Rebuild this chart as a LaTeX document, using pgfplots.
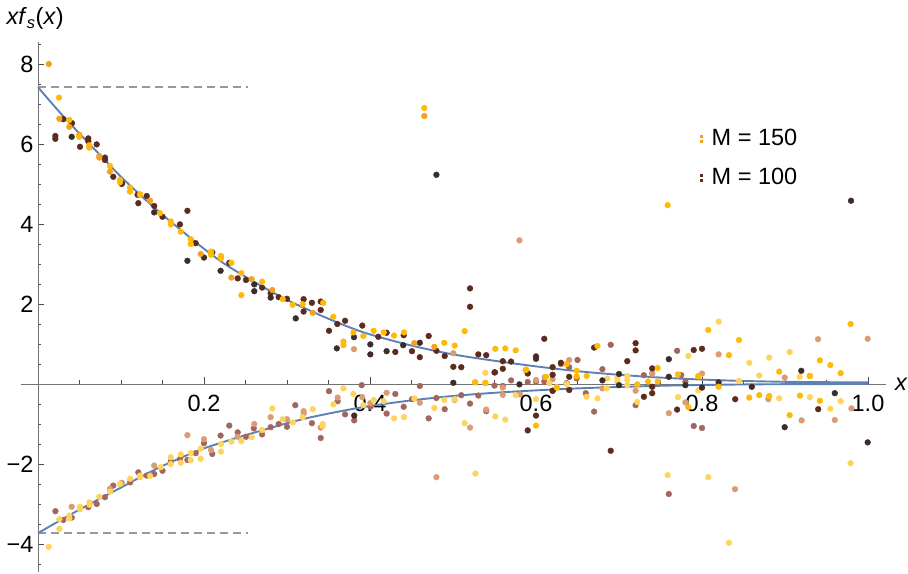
\documentclass[border=0pt]{standalone}
\usepackage{pgfplots}
\pgfplotsset{compat=1.18}
\usepackage{fontspec}
\setmainfont{Liberation Sans}
\definecolor{cgold}{HTML}{FFBA08}
\definecolor{corange}{HTML}{F2A21F}
\definecolor{cdark}{HTML}{5C2B1D}
\definecolor{cblack}{HTML}{3D2C2C}
\definecolor{cyel}{HTML}{FFD45C}
\definecolor{ctan}{HTML}{D99C74}
\definecolor{cmauve}{HTML}{A3665F}
\definecolor{cblue}{HTML}{5E81B5}
\begin{document}
\begin{tikzpicture}
\begin{axis}[
  scale only axis, width=864.9pt, height=530.4pt,
  xmin=-0.02, xmax=1.022, ymin=-4.7, ymax=8.56,
  axis lines=middle, axis line style={-, black!55, line width=0.9pt},
  clip=false,
  xtick={0.2,0.4,0.6,0.8,1.0}, xticklabels={0.2,0.4,0.6,0.8,1.0},
  minor xtick={0.05,0.1,0.15,0.25,0.3,0.35,0.45,0.5,0.55,0.65,0.7,0.75,0.85,0.9,0.95},
  ytick={-4,-2,2,4,6,8}, yticklabels={−4,−2,2,4,6,8},
  minor ytick={-4.5,-3.5,-3,-2.5,-1.5,-1,-0.5,0.5,1,1.5,2.5,3,3.5,4.5,5,5.5,6.5,7,7.5,8.5},
  tick align=inside, major tick length=6.5pt, minor tick length=3.5pt,
  tick style={black!70, line width=0.8pt},
  every tick label/.append style={font=\fontsize{23.5}{26}\selectfont, text=black},
  xticklabel style={yshift=-8pt},
  yticklabel style={xshift=-1pt},
  legend style={at={(axis cs:0.797,5.65)}, anchor=west, draw=none, fill=none,
    font=\fontsize{23.5}{26}\selectfont, row sep=17pt, inner sep=0pt,
    /tikz/every odd column/.append style={column sep=7pt}},
  legend cell align=left,
  mark size=2.9pt,
]
\addlegendimage{legend image code/.code={\fill[corange] (0pt,1.5pt) rectangle (2.6pt,3.6pt); \fill[corange] (0pt,-3.6pt) rectangle (2.6pt,-1.5pt);}}
\addlegendentry{M = 150}
\addlegendimage{legend image code/.code={\fill[cdark] (0pt,1.5pt) rectangle (2.6pt,3.6pt); \fill[cdark] (0pt,-3.6pt) rectangle (2.6pt,-1.5pt);}}
\addlegendentry{M = 100}
% dashed reference lines
\addplot[forget plot, no marks, black!40, dashed, dash pattern=on 8pt off 5pt, line width=1.8pt] coordinates {(0,7.42) (0.253,7.42)};
\addplot[forget plot, no marks, black!40, dashed, dash pattern=on 8pt off 5pt, line width=1.8pt] coordinates {(0,-3.73) (0.253,-3.73)};
% fitted curves
\addplot[forget plot, no marks, cblue, line width=1.9pt, smooth] coordinates {
(0,7.42) (0.025,6.82) (0.05,6.26) (0.075,5.72) (0.1,5.18) (0.125,4.69) (0.15,4.23) (0.175,3.80) (0.2,3.38) (0.225,3.00) (0.25,2.68) (0.275,2.38) (0.3,2.10) (0.325,1.86) (0.35,1.63) (0.375,1.42) (0.4,1.24) (0.45,0.96) (0.5,0.74) (0.55,0.58) (0.6,0.44) (0.65,0.32) (0.7,0.23) (0.75,0.16) (0.8,0.11) (0.85,0.075) (0.9,0.055) (0.95,0.045) (1.0,0.04)};
\addplot[forget plot, no marks, cblue, line width=1.9pt, smooth] coordinates {
(0,-3.73) (0.025,-3.43) (0.05,-3.14) (0.075,-2.86) (0.1,-2.59) (0.125,-2.31) (0.15,-2.05) (0.175,-1.82) (0.2,-1.61) (0.225,-1.44) (0.25,-1.28) (0.275,-1.13) (0.3,-0.98) (0.325,-0.85) (0.35,-0.74) (0.375,-0.64) (0.4,-0.55) (0.45,-0.41) (0.5,-0.30) (0.55,-0.22) (0.6,-0.16) (0.65,-0.11) (0.7,-0.075) (0.75,-0.045) (0.8,-0.025) (0.85,-0.012) (0.9,-0.005) (0.95,-0.002) (1.0,0)};
% scatter: lower-branch colours
\addplot[forget plot, only marks, mark=*, cmauve, mark options={draw=none}] coordinates {
(0.021,-3.18) (0.0305,-3.4) (0.0406,-3.34) (0.0606,-3.08) (0.0707,-3.0) (0.0807,-2.83) (0.0907,-2.54) (0.111,-2.46) (0.1209,-2.21) (0.131,-2.29) (0.14,-2.25) (0.15,-2.17) (0.16,-1.94) (0.171,-1.88) (0.18,-1.9) (0.19,-1.73) (0.2,-1.48) (0.21,-1.75) (0.22,-1.29) (0.2305,-1.04) (0.2406,-1.21) (0.2506,-1.32) (0.26,-1.11) (0.27,-1.26) (0.2803,-1.08) (0.29,-1.0) (0.30,-1.07) (0.31,-0.53) (0.33,-0.98) (0.3406,-1.35) (0.3506,-0.18) (0.361,-0.43) (0.37,-0.76) (0.381,-0.91) (0.39,-0.03) (0.4004,-0.57) (0.42,-0.74) (0.4305,-0.25) (0.4406,-0.57) (0.4506,-0.38) (0.46,-0.05) (0.4707,-0.86) (0.48,-0.35) (0.49,-0.63) (0.51,-0.28) (0.5205,-0.49) (0.5305,-0.29) (0.54,-0.68) (0.55,-0.04) (0.56,-0.05) (0.57,0.09) (0.58,-0.25) (0.59,0.05) (0.59,0.26) (0.6,0.06) (0.61,0.06) (0.62,-0.17) (0.63,0.5) (0.637,0.02) (0.64,0.42) (0.649,0.14) (0.65,0.6) (0.66,-0.23) (0.67,-0.69) (0.68,0.37) (0.69,0.98) (0.72,-0.53) (0.73,0.22) (0.775,0.22) (0.76,-2.75) (0.77,0.83) (0.78,0.06) (0.79,-1.05) (0.80,-1.1)};
\addplot[forget plot, only marks, mark=*, ctan, mark options={draw=none}] coordinates {
(0.0406,-3.07) (0.0867,-2.62) (0.101,-2.47) (0.14,-2.04) (0.18,-1.28) (0.2,-1.38) (0.2084,-1.65) (0.2406,-1.32) (0.2606,-1.0) (0.2803,-0.83) (0.30,-0.88) (0.32,-0.68) (0.32,-0.74) (0.3406,-1.09) (0.361,-0.34) (0.3807,0.87) (0.3907,-0.33) (0.4004,-0.48) (0.42,-0.22) (0.46,-0.47) (0.48,-2.33) (0.5004,0.77) (0.502,-0.4) (0.5205,-1.09) (0.54,-0.64) (0.56,-0.09) (0.56,-0.27) (0.5807,-0.26) (0.580,3.59) (0.60,0.1) (0.6105,0.17) (0.62,0.12) (0.64,0.6) (0.68,-0.11) (0.72,-0.17) (0.74,0.25) (0.74,0.27) (0.76,-0.73) (0.78,-0.46) (0.80,0.26) (0.82,0.74) (0.8398,-2.63) (0.86,-0.05) (0.8799,-0.38) (0.8996,0.16) (0.92,-0.91) (0.9398,1.12) (0.96,-0.9) (0.98,-0.61) (0.9996,1.13)};
\addplot[forget plot, only marks, mark=*, cyel, mark options={draw=none}] coordinates {
(0.013,-4.07) (0.0257,-3.38) (0.0257,-3.62) (0.0377,-3.29) (0.0377,-3.36) (0.0506,-3.07) (0.0506,-3.13) (0.062,-2.96) (0.062,-3.02) (0.0739,-2.82) (0.0867,-2.69) (0.0988,-2.5) (0.111,-2.37) (0.1229,-2.33) (0.1229,-2.29) (0.135,-2.3) (0.148,-2.08) (0.16,-1.83) (0.16,-2.0) (0.172,-1.76) (0.172,-1.97) (0.184,-1.73) (0.184,-1.9) (0.196,-1.62) (0.196,-1.87) (0.2205,-1.5) (0.2205,-1.69) (0.233,-1.44) (0.245,-1.43) (0.2574,-1.33) (0.27,-1.15) (0.2823,-0.61) (0.2948,-0.88) (0.307,-0.96) (0.319,-0.83) (0.331,-0.63) (0.343,-1.0) (0.343,-1.05) (0.356,-0.51) (0.368,-0.11) (0.38,-0.25) (0.392,-0.53) (0.4044,-0.4) (0.4165,-0.43) (0.429,-0.86) (0.441,-0.83) (0.4534,-0.36) (0.4775,-0.6) (0.4895,-0.4) (0.502,-0.38) (0.514,-0.98) (0.527,-2.24) (0.527,0.05) (0.539,0.28) (0.539,0.02) (0.551,-0.81) (0.563,-0.89) (0.5755,-0.28) (0.60,-0.38) (0.616,0.02) (0.625,-0.08) (0.637,0) (0.661,-0.32) (0.674,-0.36) (0.685,-0.11) (0.686,0.14) (0.698,0.16) (0.698,0.05) (0.71,0.2) (0.71,0.1) (0.71,-0.03) (0.722,-0.45) (0.7586,-2.28) (0.771,-0.33) (0.7835,0.7) (0.7956,-0.16) (0.8076,-2.33) (0.82,1.56) (0.8325,-3.97) (0.8446,0.08) (0.857,0.53) (0.869,0.21) (0.881,0.66) (0.893,-0.36) (0.9056,0.8) (0.9177,0.18) (0.93,-0.33) (0.9546,-0.62) (0.967,-0.43) (0.979,-1.98)};
% scatter: upper-branch colours
\addplot[forget plot, only marks, mark=*, cdark, mark options={draw=none}] coordinates {
(0.0305,6.62) (0.041,6.52) (0.0209,6.2) (0.0209,6.13) (0.0506,5.93) (0.0606,6.14) (0.0606,6.07) (0.0707,5.99) (0.0807,5.66) (0.0807,5.6) (0.0907,5.18) (0.1008,5.0) (0.120,4.73) (0.1209,4.52) (0.131,4.7) (0.14,4.45) (0.15,4.18) (0.171,3.99) (0.18,4.33) (0.19,3.52) (0.21,3.29) (0.2305,3.03) (0.2406,2.64) (0.2506,2.6) (0.27,2.41) (0.2803,2.27) (0.29,2.17) (0.30,2.13) (0.320,2.12) (0.320,1.81) (0.330,2.03) (0.3406,2.06) (0.3406,1.85) (0.3506,1.33) (0.3606,1.5) (0.370,1.58) (0.3907,1.46) (0.410,1.18) (0.420,1.28) (0.4305,0.8) (0.4406,1.22) (0.4506,0.82) (0.460,0.67) (0.4707,1.2) (0.480,0.83) (0.490,0.7) (0.5004,0.43) (0.510,0.42) (0.5205,2.39) (0.5205,1.93) (0.5305,0.74) (0.540,0.72) (0.560,0.57) (0.560,0.38) (0.570,0.56) (0.550,0.29) (0.610,1.13) (0.600,0.69) (0.620,0.42) (0.630,0.53) (0.62,0.23) (0.670,0.91) (0.720,1.02) (0.720,0.84) (0.710,0.57) (0.740,0.39) (0.790,0.85) (0.800,0.88) (0.740,-0.07) (0.740,-0.23) (0.730,-0.32) (0.770,-0.64) (0.5506,0.29) (0.59,0.27) (0.62,-0.17) (0.64,-0.15) (0.59,-1.16) (0.60,-0.79) (0.690,-1.67) (0.84,-0.38) (0.94,-0.63) (0.64,0.18)};
\addplot[forget plot, only marks, mark=*, cblack, mark options={draw=none}] coordinates {
(0.0406,6.18) (0.1012,5.02) (0.140,4.29) (0.18,3.08) (0.200,3.16) (0.220,2.83) (0.2606,2.49) (0.2606,2.32) (0.2803,2.16) (0.3105,1.64) (0.360,0.89) (0.3807,1.17) (0.4004,0.99) (0.4004,0.74) (0.420,0.82) (0.440,0.97) (0.460,1.03) (0.480,5.23) (0.5004,0.03) (0.600,0.63) (0.760,0.62) (0.760,0.18) (0.9196,0.33) (0.9795,4.58) (0.9996,-1.46) (0.680,0.09) (0.700,0.25) (0.70,-0.03) (0.78,-0.03) (0.80,-0.09) (0.82,0.04) (0.86,-0.07) (0.8996,-1.08) (0.96,-0.23) (0.381,-0.79) (0.58,-0.01)};
\addplot[forget plot, only marks, mark=*, corange, mark options={draw=none}] coordinates {
(0.013,8.0) (0.0257,6.63) (0.0377,6.43) (0.0498,6.23) (0.0739,5.7) (0.0739,5.66) (0.0867,5.31) (0.1229,4.74) (0.135,4.58) (0.196,3.25) (0.233,2.66) (0.2574,2.62) (0.2823,2.35) (0.331,1.78) (0.4534,1.02) (0.4654,6.7) (0.4775,0.93)};
\addplot[forget plot, only marks, mark=*, cgold, mark options={draw=none}] coordinates {
(0.0253,7.16) (0.0377,6.6) (0.0498,6.18) (0.0618,5.97) (0.0618,5.91) (0.0867,5.45) (0.0988,5.1) (0.0988,5.04) (0.1108,4.91) (0.1108,4.81) (0.1229,4.73) (0.147,4.27) (0.16,4.06) (0.16,3.99) (0.172,3.81) (0.184,3.62) (0.184,3.5) (0.2084,3.31) (0.2084,3.23) (0.2205,3.2) (0.2205,3.14) (0.233,3.03) (0.245,2.77) (0.245,2.22) (0.27,2.56) (0.2948,2.12) (0.3068,1.98) (0.319,1.99) (0.3437,2.03) (0.3558,1.68) (0.368,1.06) (0.368,0.97) (0.38,1.29) (0.392,1.2) (0.4044,1.33) (0.4165,1.29) (0.4289,1.21) (0.441,1.29) (0.4654,6.9) (0.4895,1.03) (0.502,0.96) (0.514,1.32) (0.551,0.88) (0.563,0.89) (0.5755,0.84) (0.588,0.36) (0.612,0.18) (0.637,0.5) (0.649,0.33) (0.649,0.19) (0.661,0.2) (0.674,0.95) (0.7466,0.4) (0.7586,4.47) (0.771,0.24) (0.7956,0.2) (0.8076,1.35) (0.8325,0.72) (0.8446,1.1) (0.893,0.31) (0.9297,0.2) (0.942,0.59) (0.9546,0.47) (0.967,0.27) (0.979,1.5) (0.5265,0.04) (0.539,0.03) (0.5875,0.35) (0.625,-0.09) (0.722,-0.01) (0.735,0.06) (0.7466,0.06) (0.7835,-0.58) (0.7956,0.19) (0.82,-0.07) (0.857,-0.34) (0.869,-0.28) (0.881,-0.3) (0.9056,-0.78) (0.918,-0.29) (0.93,0.2) (0.942,-0.42) (0.60,-1.04)};
% axis labels
\node[anchor=base west, font=\fontsize{23.5}{26}\selectfont, inner sep=0pt] at (axis cs:-0.038,8.98) {\textit{xf}\textsubscript{\textit{s}}(\textit{x})};
\node[anchor=west, font=\fontsize{23.5}{26}\selectfont, inner sep=0pt] at (axis cs:1.0325,0) {\textit{x}};
\coordinate (bbsw) at (axis cs:-0.04578,-4.75);
\coordinate (bbne) at (axis cs:1.04819,9.6);
\end{axis}
\pgfresetboundingbox
\useasboundingbox (bbsw) rectangle (bbne);
\end{tikzpicture}
\end{document}
